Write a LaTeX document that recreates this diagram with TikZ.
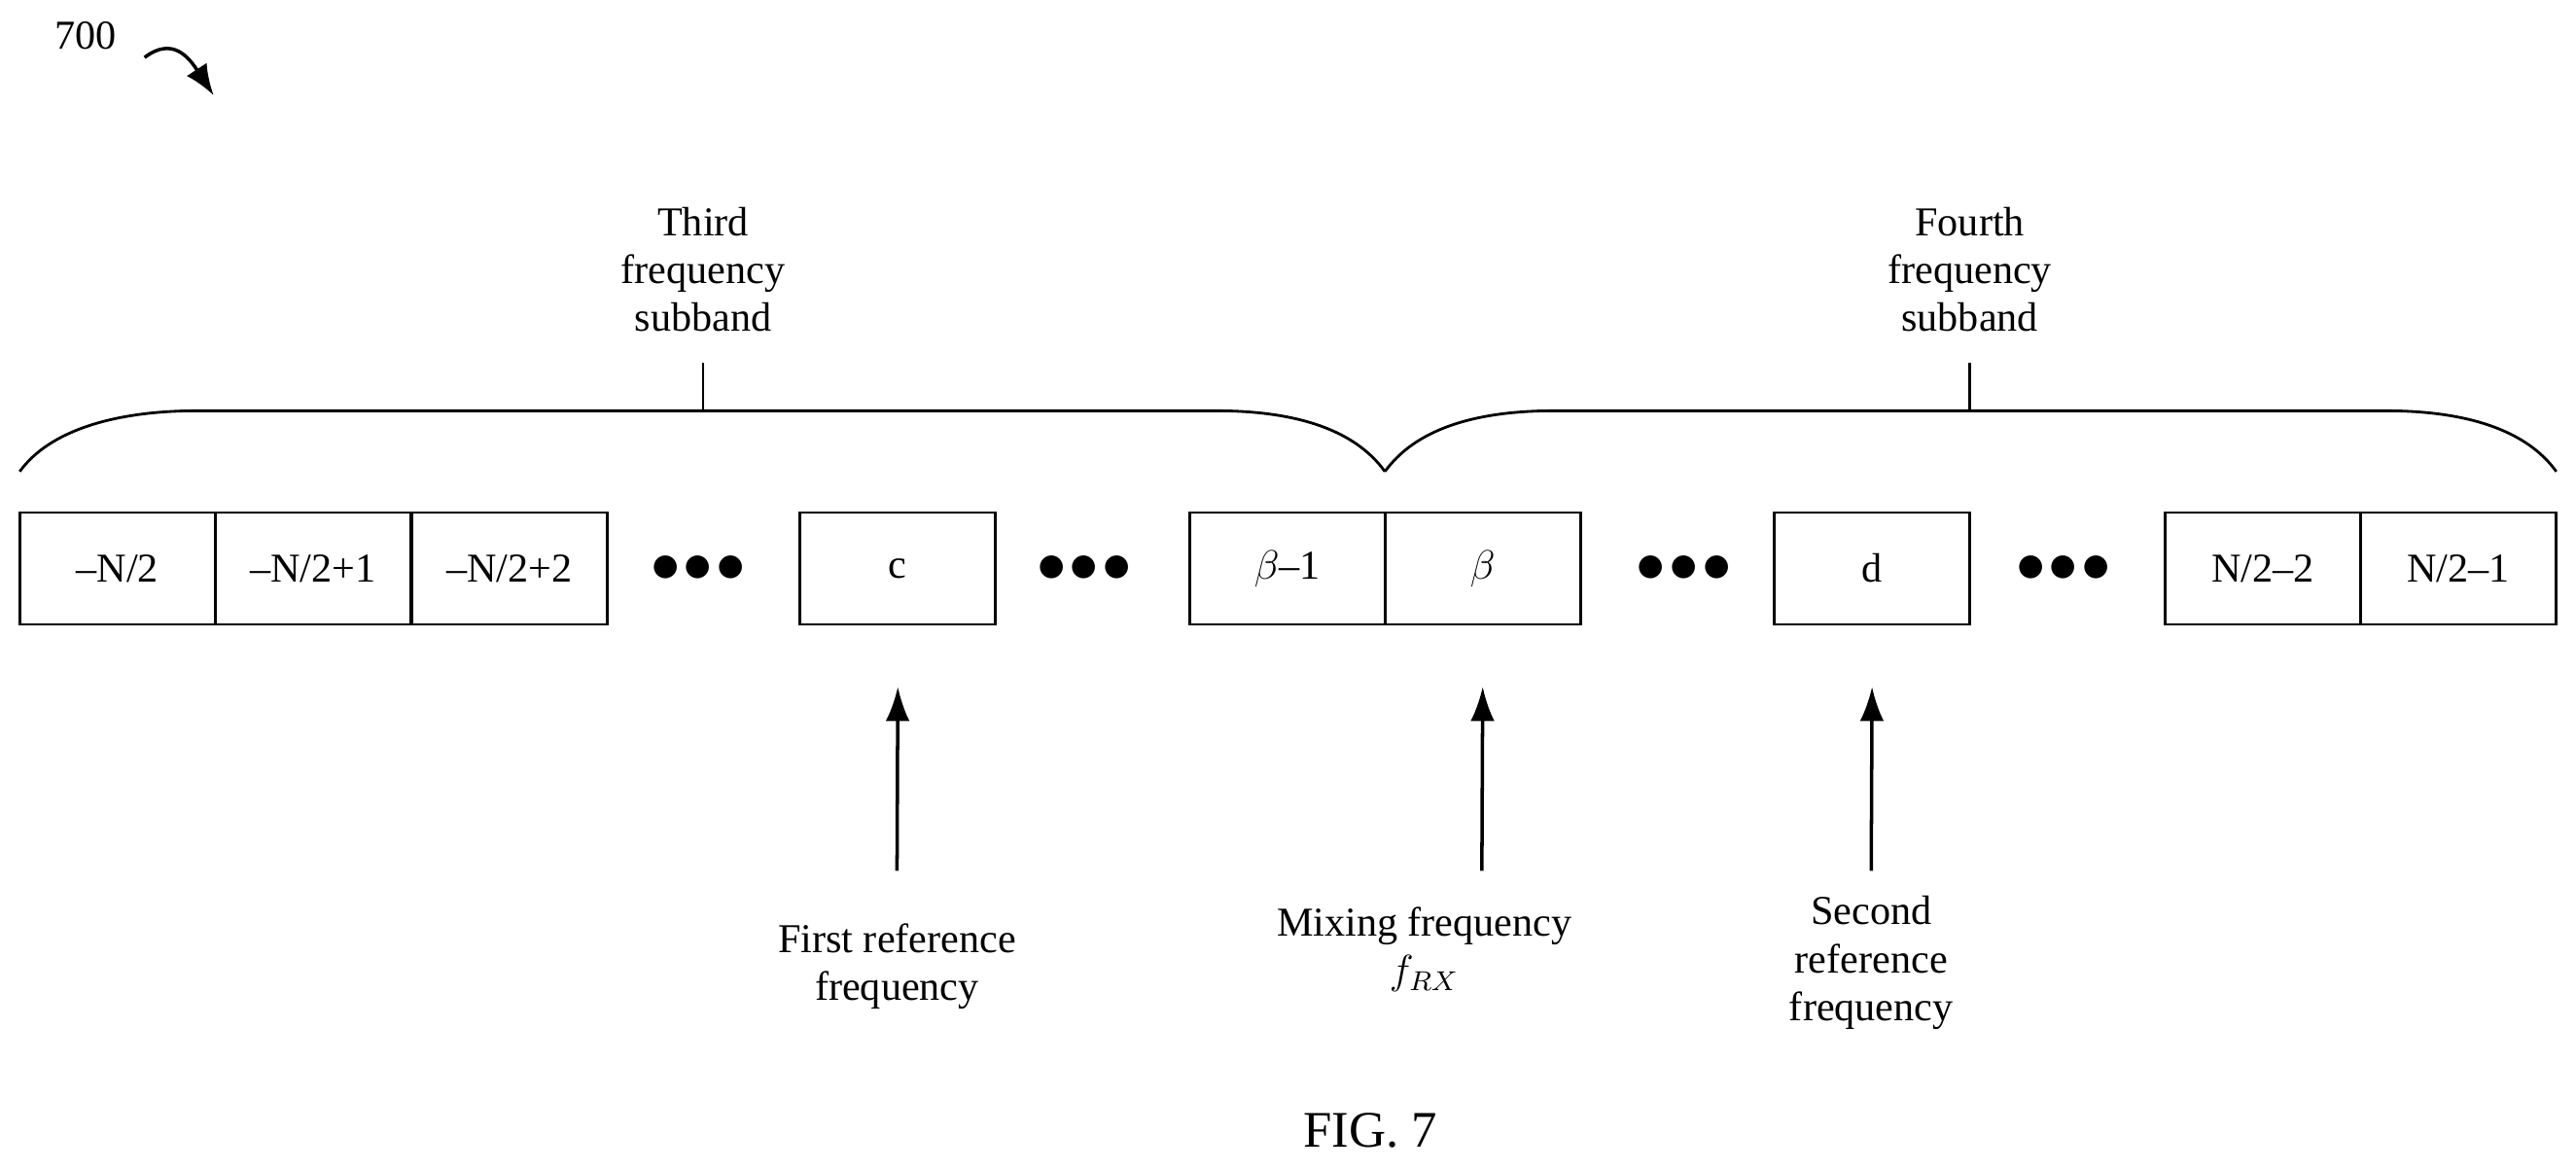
\documentclass[tikz,border=0pt]{standalone}
\usepackage{fontspec}
\setmainfont{Liberation Serif}
\usetikzlibrary{arrows.meta}
\tikzset{
  cell/.style={draw, line width=0.8pt, minimum width=2.01cm, minimum height=1.15cm, inner sep=0pt, font=\fontsize{12}{14}\selectfont},
  lbl/.style={align=center, font=\fontsize{12}{14}\selectfont, inner sep=0pt},
  dots/.style={font=\fontsize{16}{16}\selectfont\bfseries},
  pointer/.style={-{Latex[length=10pt,width=7pt]}, line width=1pt}
}
\begin{document}
\begin{tikzpicture}[x=0.1689mm, y=-0.1689mm]
	\useasboundingbox (0,0) rectangle (1568,712);
	% cells
	\node[cell] (n0) at (71.5,346) {--N/2};
	\node[cell] (n1) at (190.5,346) {--N/2+1};
	\node[cell] (n2) at (310,346) {--N/2+2};
	\node[cell] (c) at (546.5,346) {c};
	\node[cell] (b1) at (783.5,346) {$\beta$--1};
	\node[cell] (b) at (902.5,346) {$\beta$};
	\node[cell] (d) at (1139.5,346) {d};
	\node[cell] (m2) at (1377.5,346) {N/2--2};
	\node[cell] (m1) at (1496.5,346) {N/2--1};
	\foreach \x/\nm in {425/d1, 660/d2, 1025/d3, 1256/d4}
		\node[dots] (\nm) at (\x,346) {$\bullet\!\bullet\!\bullet$};
	% braces
	\draw[line width=0.8pt] (12,287) .. controls (30,262) and (70,250) .. (120,250) -- (740,250)
		.. controls (790,250) and (825,262) .. (843,287);
	\draw[line width=0.8pt] (843,287) .. controls (861,262) and (896,250) .. (946,250) -- (1452,250)
		.. controls (1502,250) and (1538,262) .. (1556,287);
	\coordinate (t3) at (428,250);
	\coordinate (t4) at (1199,250);
	\node[lbl] (third) at (428,164) {Third\\frequency\\subband};
	\node[lbl] (fourth) at (1199,164) {Fourth\\frequency\\subband};
	\draw[line width=0.8pt] (t3) -- ++(0,-29);
	\draw[line width=0.8pt] (t4) -- ++(0,-29);
	% pointers
	\node[lbl] (first) at (546,588) {First reference\\frequency};
	\node[lbl] (mix) at (867,578) {Mixing frequency\\$f_{RX}$};
	\node[lbl] (second) at (1139,586) {Second\\reference\\frequency};
	\draw[pointer] (546,530) -- (c.south |- 0,418);
	\draw[pointer] (902,530) -- (b.south |- 0,418);
	\draw[pointer] (1139,530) -- (d.south |- 0,418);
	\node[lbl, font=\fontsize{15}{18}\selectfont] (fig) at (834,688) {FIG. 7};
	\node[lbl] (num) at (52,22) {700};
	\draw[-{Latex[length=9pt,width=7pt]}, line width=1pt] (88,35) .. controls (105,22) and (115,35) .. (130,58);
\end{tikzpicture}
\end{document}
